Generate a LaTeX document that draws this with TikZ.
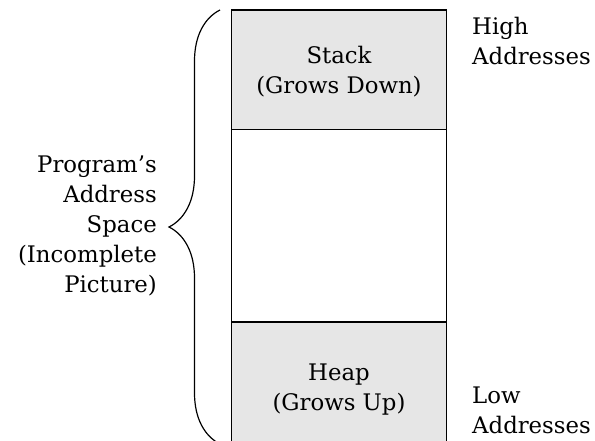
\documentclass[tikz,border=0pt]{standalone}
\usepackage{fontspec}
\setmainfont{DejaVu Serif}
\usetikzlibrary{decorations.pathreplacing}
\begin{document}
\begin{tikzpicture}[x=1pt,y=1pt,
  txt/.style={font=\fontsize{22.8}{30}\selectfont, inner sep=0pt},
  seg/.style={draw=black, line width=1.8pt, minimum width=215pt, inner sep=0pt, outer sep=0pt},
  lbl/.style={txt, align=center},
  side/.style={txt, align=left}]
\useasboundingbox (0,0) rectangle (595,440);
\node[seg, fill={rgb,255:red,230;green,230;blue,230}, minimum height=119.5pt] (stack) at (339,370.25) {};
\node[seg, fill=white, minimum height=192.2pt] (mid) at (339,214.4) {};
\node[seg, fill={rgb,255:red,230;green,230;blue,230}, minimum height=121pt, anchor=north] (heap) at (mid.south) {};
\node[lbl, anchor=base] (stacktxt) at (339,346) {Stack\\(Grows Down)};
\node[lbl, anchor=base] (heaptxt) at (339,30) {Heap\\(Grows Up)};
\node[side, anchor=base west] (high) at (472,375) {High\\Addresses};
\node[side, anchor=base west] (low) at (472,7) {Low\\Addresses};
\node[txt, align=right, anchor=base east] (prog) at (157,148) {Program's\\Address\\Space\\(Incomplete\\Picture)};
\coordinate (bt) at (220,430);
\coordinate (bb) at (220,-4);
\draw[line width=1.2pt, decorate, decoration={brace, amplitude=51pt}] (bb) -- (bt);
\end{tikzpicture}
\end{document}
